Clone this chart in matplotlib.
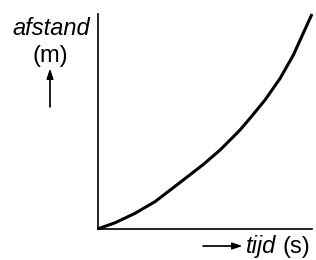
import matplotlib.pyplot as plt

# tijd (s) en afstand (m) (willekeurige eenheden 0..10)
tijd = [0, 0.82, 1.75, 2.68, 4.0, 4.93, 5.71, 6.64, 7.11, 7.81, 8.51, 9.13, 9.52, 10]
afstand = [0, 0.29, 0.73, 1.27, 2.28, 3.0, 3.67, 4.6, 5.15, 6.0, 7.0, 8.09, 8.95, 10]

W, H = 316, 260

plt.rcParams['font.family'] = ['Liberation Sans', 'DejaVu Sans']

fig = plt.figure(figsize=(W / 100, H / 100), dpi=100)
ax = fig.add_axes([97.5 / W, (H - 229) / H, 214.5 / W, 215 / H])

ax.plot(tijd, afstand, color='black', lw=2.2, clip_on=False,
        solid_capstyle='butt', solid_joinstyle='round')
ax.set_xlim(0, 10)
ax.set_ylim(0, 10)
ax.set_xticks([])
ax.set_yticks([])
for side in ('top', 'right'):
    ax.spines[side].set_visible(False)
for side in ('left', 'bottom'):
    ax.spines[side].set_linewidth(1.2)


def px(x, y):
    return x / W, 1 - y / H


fs = 17
fig.text(*px(51.5, 35), 'afstand', style='italic', fontsize=fs,
         ha='center', va='baseline')
fig.text(*px(50.5, 62), '(m)', fontsize=fs, ha='center', va='baseline')
fig.text(*px(246, 253), 'tijd', style='italic', fontsize=fs,
         ha='left', va='baseline')
fig.text(*px(282, 253), '(s)', fontsize=fs, ha='left', va='baseline')

arrow = dict(arrowstyle='-|>,head_length=0.6,head_width=0.2',
             color='black', lw=0.9, shrinkA=0, shrinkB=0)
fig.add_artist(plt.annotate('', xy=px(50, 69), xytext=px(50, 107),
                            xycoords='figure fraction',
                            textcoords='figure fraction', arrowprops=arrow))
fig.add_artist(plt.annotate('', xy=px(242, 246), xytext=px(203, 246),
                            xycoords='figure fraction',
                            textcoords='figure fraction', arrowprops=arrow))

fig.savefig('out.png', dpi=100)
